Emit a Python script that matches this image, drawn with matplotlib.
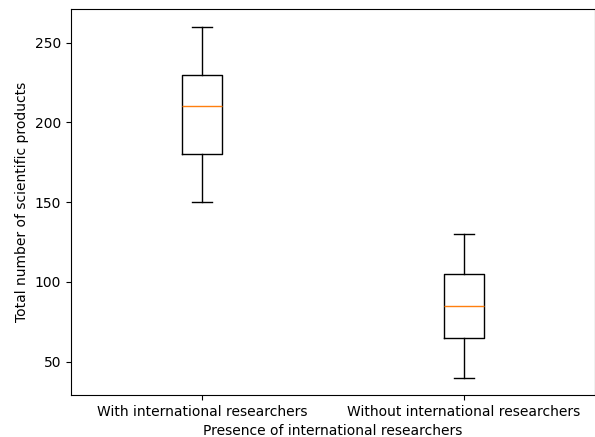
import matplotlib.pyplot as plt

# Summary statistics for each group
groups = ["With international researchers", "Without international researchers"]
whisker_low = [150, 40]
q1 = [180, 65]
median = [210, 85]
q3 = [230, 105]
whisker_high = [260, 130]

stats = [
    {"label": g, "whislo": lo, "q1": a, "med": m, "q3": b, "whishi": hi, "fliers": []}
    for g, lo, a, m, b, hi in zip(groups, whisker_low, q1, median, q3, whisker_high)
]

fig, ax = plt.subplots(figsize=(5.95, 4.37), dpi=100)
ax.bxp(stats)
ax.set_xlabel("Presence of international researchers")
ax.set_ylabel("Total number of scientific products")

fig.subplots_adjust(left=0.119, right=1.0, top=0.979, bottom=0.096)
plt.savefig("out.png")
